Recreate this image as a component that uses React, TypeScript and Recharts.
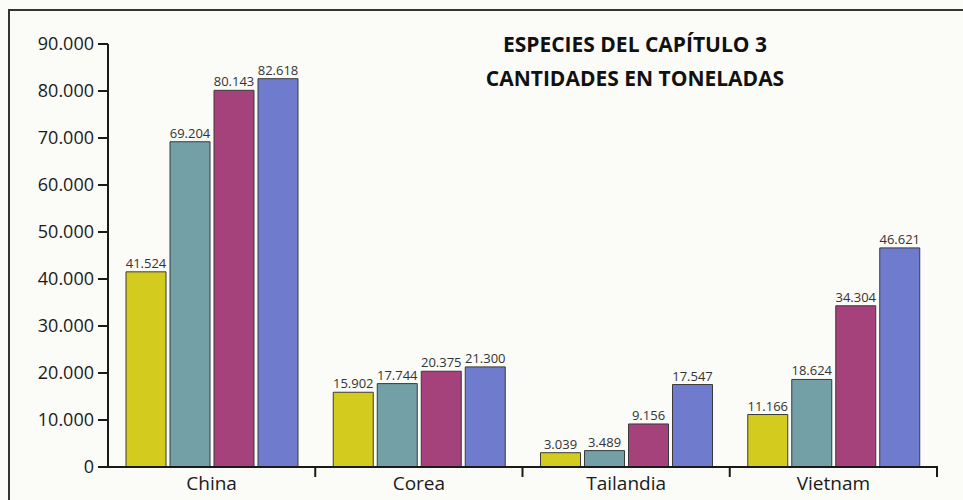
import { BarChart, Bar, XAxis, YAxis, LabelList } from 'recharts';

const countries = ['China', 'Corea', 'Tailandia', 'Vietnam'];
const serie1 = [41524, 15902, 3039, 11166];
const serie2 = [69204, 17744, 3489, 18624];
const serie3 = [80143, 20375, 9156, 34304];
const serie4 = [82618, 21300, 17547, 46621];
const yTicks = [0, 10000, 20000, 30000, 40000, 50000, 60000, 70000, 80000, 90000];

const colors = ['#d3cb1d', '#72a0a6', '#a5427b', '#6f7ccd'];
const keys = ['s1', 's2', 's3', 's4'];

const data = countries.map((c, i) => ({
    name: c,
    s1: serie1[i],
    s2: serie2[i],
    s3: serie3[i],
    s4: serie4[i],
}));

const fmt = (v: any) => String(v).replace(/\B(?=(\d{3})+(?!\d))/g, '.');

const W = 963;
const H = 500;
const Y_W = 100;
const X_H = 30;
const margin = { top: 44, right: 26, bottom: 3, left: 8 };
const band = (W - margin.left - Y_W - margin.right) / countries.length;

const CategoryTick = (props: any) => {
    const { x, y, payload, index } = props;
    const last = index === countries.length - 1;
    return (
        <g>
            <text x={x} y={y + 15} textAnchor="middle" fill="#1a1a1a" fontSize={19}
                fontFamily="'Open Sans', sans-serif">{payload.value}</text>
            {index > 0 && <line x1={x - band / 2} x2={x - band / 2} y1={y - 9} y2={y + 2} stroke="#1a1a1a" strokeWidth={2} />}
            {last && <line x1={x + band / 2} x2={x + band / 2} y1={y - 9} y2={y + 2} stroke="#1a1a1a" strokeWidth={2} />}
        </g>
    );
};

export default function App() {
    return (
        <div style={{ position: 'absolute', left: 0, top: 0, width: W, height: H, background: '#fbfbf8', overflow: 'hidden' }}>
            <div style={{
                position: 'absolute', left: 8, top: 9, width: W, height: H,
                borderTop: '2px solid #333', borderLeft: '2px solid #333',
            }} />
            <div style={{
                position: 'absolute', left: 435, top: 27, width: 400, textAlign: 'center',
                fontFamily: "'Open Sans', sans-serif", fontWeight: 700, fontSize: 21,
                lineHeight: '34px', color: '#111',
            }}>
                ESPECIES DEL CAPÍTULO 3<br />CANTIDADES EN TONELADAS
            </div>
            <div style={{ position: 'absolute', left: 0, top: 0 }}>
                <BarChart width={W} height={H} data={data} margin={margin} barSize={40} barGap={4}>
                    <XAxis dataKey="name" height={X_H} tickLine={false} axisLine={{ stroke: '#1a1a1a', strokeWidth: 2 }}
                        tick={<CategoryTick />} interval={0} />
                    <YAxis domain={[0, 90000]} ticks={yTicks} tickFormatter={fmt} width={Y_W}
                        tickSize={10} tickMargin={4}
                        axisLine={{ stroke: '#1a1a1a', strokeWidth: 2 }}
                        tickLine={{ stroke: '#1a1a1a', strokeWidth: 2 }}
                        tick={{ fill: '#1a1a1a', fontSize: 18, fontFamily: "'Open Sans', sans-serif" }} />
                    {keys.map((k, i) => (
                        <Bar key={k} dataKey={k} fill={colors[i]} stroke="#3a3a3a" strokeWidth={1}
                            isAnimationActive={false}>
                            <LabelList dataKey={k} position="top" offset={4} formatter={fmt}
                                style={{ fill: '#333', fontSize: 13, fontFamily: "'Open Sans', sans-serif" }} />
                        </Bar>
                    ))}
                </BarChart>
            </div>
        </div>
    );
}
